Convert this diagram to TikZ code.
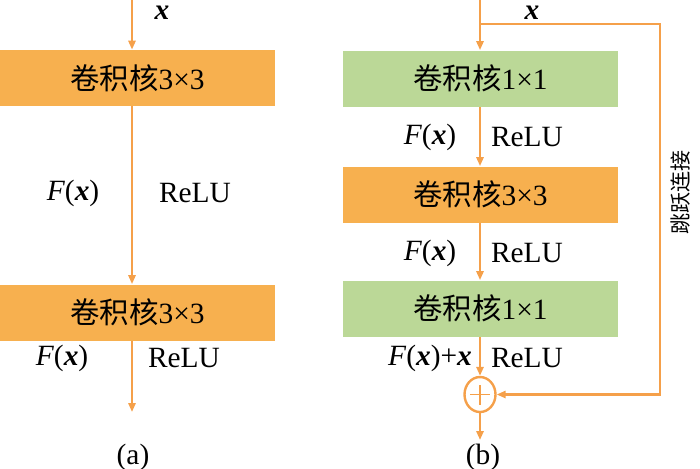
\documentclass[tikz,border=0pt]{standalone}
\usepackage{fontspec}
\setmainfont{Liberation Serif}
\newfontfamily\cjk{Noto Sans CJK SC}
\usetikzlibrary{arrows.meta,shapes.geometric}
\definecolor{resorange}{HTML}{F7B04F}
\definecolor{resgreen}{HTML}{BBD897}
\definecolor{resline}{HTML}{F5A04A}
\newcommand{\fx}{\textit{F}(\textbf{\textit{x}})}
\tikzset{
  convbox/.style={fill=resorange,minimum width=137.5pt,minimum height=28pt,
                  inner sep=0pt,font=\fontsize{14.7}{17}\selectfont},
  onebox/.style={convbox,fill=resgreen},
  flow/.style={-{Triangle[length=4.5pt,width=3.6pt]},line width=1.1pt,draw=resline},
  flowlabel/.style={font=\fontsize{14.7}{17}\selectfont,inner sep=0pt},
  sumnode/.style={ellipse,draw=resline,line width=1.2pt,minimum width=15.5pt,minimum height=17.5pt,inner sep=0pt,
                  path picture={\draw[resline,line width=0.6pt]
                    ([xshift=-5pt]path picture bounding box.center) -- ([xshift=5pt]path picture bounding box.center)
                    ([yshift=-5pt]path picture bounding box.center) -- ([yshift=5pt]path picture bounding box.center);}}
}
\begin{document}
\begin{tikzpicture}[x=0.5pt,y=-0.5pt]
    \useasboundingbox (0,0) rectangle (700,468);

    % (a)
    \coordinate (atop) at (132,0);
    \node[convbox] (a1) at (137.5,78) {{\cjk 卷积核}3×3};
    \node[convbox] (a2) at (137.5,312.5) {{\cjk 卷积核}3×3};
    \coordinate (aend) at (132,412);
    \draw[flow] (atop) -- (atop |- a1.north);
    \draw[flow] (atop |- a1.south) -- (atop |- a2.north);
    \draw[flow] (atop |- a2.south) -- (aend);
    \node[flowlabel] (ax) at (162,13) {\textbf{\textit{x}}};
    \node[flowlabel] (af1) at (73,193) {\fx};
    \node[flowlabel] (ar1) at (195,193) {ReLU};
    \node[flowlabel] (af2) at (62,358) {\fx};
    \node[flowlabel] (ar2) at (184,358) {ReLU};
    \node[flowlabel] (acap) at (133,457) {(a)};

    % (b)
    \coordinate (btop) at (480,0);
    \coordinate (bsplit) at (480,24);
    \node[onebox] (b1) at (480.5,78.5) {{\cjk 卷积核}1×1};
    \node[convbox] (b2) at (480.5,194.5) {{\cjk 卷积核}3×3};
    \node[onebox] (b3) at (480.5,308.5) {{\cjk 卷积核}1×1};
    \node[sumnode] (sum) at (480,394.5) {};
    \coordinate (bend) at (480,440);
    \coordinate (skip) at (660,24);
    \draw[flow] (btop) -- (b1.north -| btop);
    \draw[flow] (b1.south -| btop) -- (b2.north -| btop);
    \draw[flow] (b2.south -| btop) -- (b3.north -| btop);
    \draw[flow] (b3.south -| btop) -- (sum.north);
    \draw[flow] (sum.south) -- (bend);
    \draw[flow] (bsplit) -- (skip) -- (skip |- sum) -- (sum.east);
    \node[flowlabel] (bx) at (532,13) {\textbf{\textit{x}}};
    \node[flowlabel] (bf1) at (430,137) {\fx};
    \node[flowlabel] (br1) at (527,137) {ReLU};
    \node[flowlabel] (bf2) at (430,253) {\fx};
    \node[flowlabel] (br2) at (527,253) {ReLU};
    \node[flowlabel] (bf3) at (430,358) {\fx+\textbf{\textit{x}}};
    \node[flowlabel] (br3) at (527,358) {ReLU};
    \node[flowlabel,font=\cjk\fontsize{10.5}{12}\selectfont,rotate=90] (skiplabel) at (681,192) {跳跃连接};
    \node[flowlabel] (bcap) at (483,457) {(b)};
\end{tikzpicture}
\end{document}
